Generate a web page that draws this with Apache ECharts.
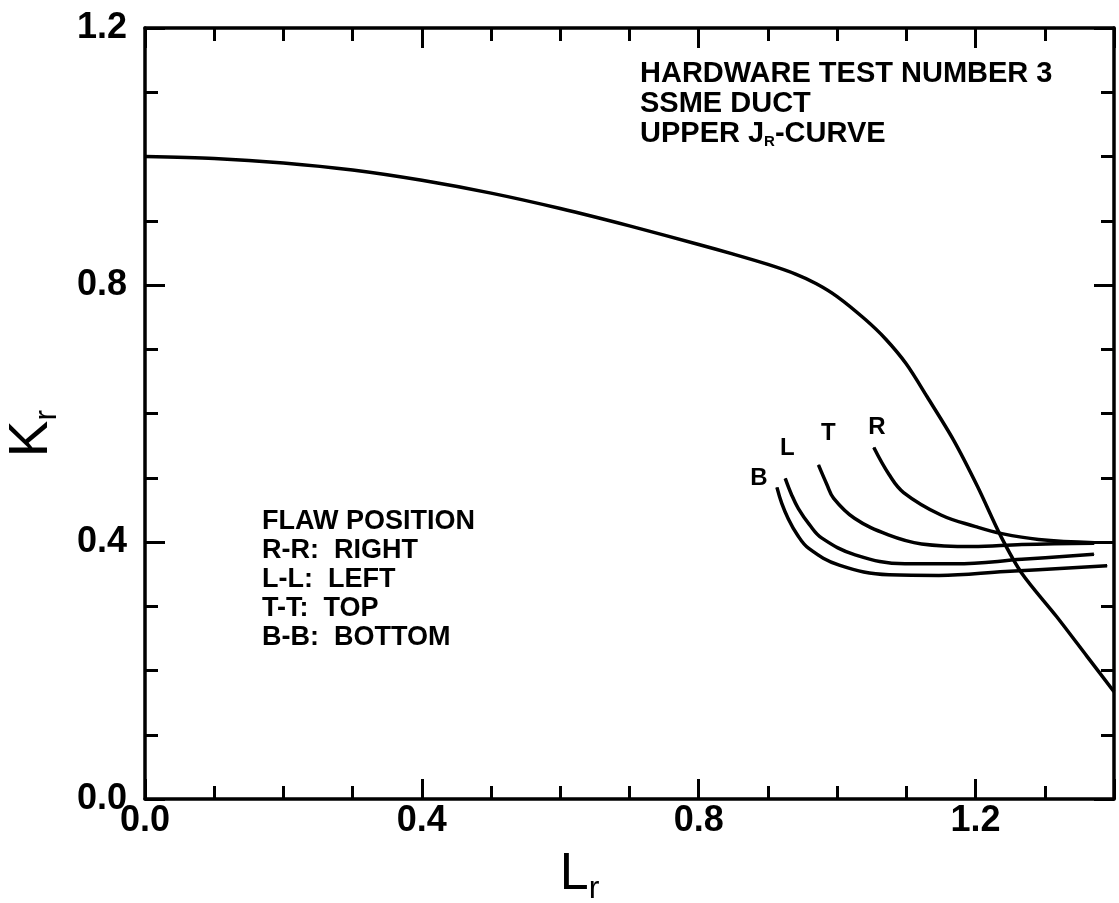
<!DOCTYPE html>
<html><head><meta charset="utf-8">
<script src="https://cdn.jsdelivr.net/npm/echarts@6/dist/echarts.min.js"></script>
<style>html,body{margin:0;padding:0;background:#fff}#c{width:1119px;height:903px}</style>
</head><body><div id="c"></div>
<script>
// ---- data ----
const mainCurve = [[0,1.0],[0.1,0.997],[0.2,0.99],[0.3,0.979],[0.4,0.963],[0.5,0.943],[0.6,0.919],[0.7,0.892],[0.8,0.863],[0.85,0.848],[0.9,0.832],[0.94,0.817],[0.97,0.802],[1.0,0.782],[1.04,0.747],[1.07,0.716],[1.1,0.677],[1.13,0.626],[1.168,0.559],[1.203,0.486],[1.237,0.408],[1.267,0.351],[1.317,0.284],[1.361,0.222],[1.4,0.167]];
const flawR = [[1.053,0.547],[1.075,0.505],[1.096,0.477],[1.15,0.442],[1.2,0.424],[1.238,0.413],[1.291,0.404],[1.372,0.399]];
const flawT = [[0.973,0.52],[0.985,0.49],[0.995,0.468],[1.025,0.437],[1.074,0.411],[1.122,0.397],[1.195,0.393],[1.267,0.396],[1.371,0.398]];
const flawL = [[0.925,0.499],[0.934,0.474],[0.944,0.452],[0.96,0.427],[0.978,0.406],[1.026,0.38],[1.098,0.366],[1.17,0.366],[1.267,0.373],[1.371,0.381]];
const flawB = [[0.913,0.485],[0.92,0.46],[0.929,0.437],[0.942,0.412],[0.959,0.39],[1.003,0.364],[1.075,0.349],[1.147,0.348],[1.243,0.354],[1.39,0.363]];
const flawNames = ['R','T','L','B'];
const xTickLabels = ['0.0','0.4','0.8','1.2'];
const yTickLabels = ['0.0','0.4','0.8','1.2'];
const infoLines = ['HARDWARE TEST NUMBER 3','SSME DUCT','UPPER J{s|R}-CURVE'];
const legendLines = ['FLAW POSITION','R-R:  RIGHT','L-L:  LEFT','T-T:  TOP','B-B:  BOTTOM'];

const FF = '"Liberation Sans", Arial, sans-serif';
const chart = echarts.init(document.getElementById('c'), null, {renderer:'canvas'});

function axisBase(pos, showLabel, labels, isX) {
  return {
    type:'value', position: pos, min:0, max: isX ? 1.4 : 1.2, interval:0.4,
    axisLine:{show:true, onZero:false, lineStyle:{color:'#000', width:3.5}},
    axisTick:{show:true, inside:true, length:20, lineStyle:{color:'#000', width:3}},
    minorTick:{show:true, splitNumber:4, length:13, lineStyle:{color:'#000', width:3}},
    splitLine:{show:false}, minorSplitLine:{show:false},
    axisLabel:{show:showLabel, color:'#000', fontSize:36, fontWeight:'bold', fontFamily:FF,
      margin: isX ? 4 : 18,
      formatter: v => { const s = (+v).toFixed(1); return labels.includes(s) ? s : ''; }}
  };
}

const xMain = Object.assign(axisBase('bottom', true, xTickLabels, true), {
  name:'{a|L}{b|r}', nameLocation:'middle', nameGap:46,
  nameTextStyle:{color:'#000', padding:[0,100,0,0], rich:{
    a:{fontSize:52, fontFamily:FF, lineHeight:60, color:'#000'},
    b:{fontSize:32, fontFamily:FF, lineHeight:28, verticalAlign:'bottom', color:'#000'}}}
});
const yMain = Object.assign(axisBase('left', true, yTickLabels, false), {
  name:'{a|K}{b|r}', nameLocation:'middle', nameGap:82,
  nameTextStyle:{color:'#000', padding:[0,40,0,0], rich:{
    a:{fontSize:55, fontFamily:FF, lineHeight:62, color:'#000'},
    b:{fontSize:32, fontFamily:FF, lineHeight:28, verticalAlign:'bottom', color:'#000'}}}
});

const labelOffsets = {R:[3,-3], T:[10,-14], L:[2,-13], B:[-18,8]};
const flawSets = [flawR, flawT, flawL, flawB];

function flawSeries(arr, name) {
  return {
    type:'line', name, xAxisIndex:0, yAxisIndex:0, showSymbol:true, symbol:'circle', symbolSize:1,
    smooth:0.4, itemStyle:{color:'#000'},
    lineStyle:{color:'#000', width:3.5},
    label:{show:false},
    data: arr.map((p,i) => i === 0 ? {value:p,
      label:{show:true, formatter:name, position:'top', offset:labelOffsets[name],
        fontSize:24, fontWeight:'bold', fontFamily:FF, color:'#000'}} : p)
  };
}

const option = {
  animation:false,
  backgroundColor:'#fff',
  grid:{left:145, right:5, top:28, bottom:104, containLabel:false, outerBoundsMode:'none'},
  xAxis:[xMain, axisBase('top', false, xTickLabels, true)],
  yAxis:[yMain, axisBase('right', false, yTickLabels, false)],
  series:[
    {type:'line', name:'main', xAxisIndex:0, yAxisIndex:0, showSymbol:false, symbol:'none', smooth:0.3,
     lineStyle:{color:'#000', width:3.5}, data: mainCurve},
    ...flawSets.map((a,i) => flawSeries(a, flawNames[i]))
  ],
  graphic:[
    {type:'text', left:640, top:59, style:{text: infoLines.join('\n'), fill:'#000',
      fontSize:29, fontWeight:'bold', fontFamily:FF, lineHeight:30,
      rich:{s:{fontSize:15, fontWeight:'bold', fontFamily:FF, lineHeight:14, verticalAlign:'bottom', fill:'#000'}}}},
    {type:'text', left:262, top:507, style:{text: legendLines.join('\n'), fill:'#000',
      fontSize:27, fontWeight:'bold', fontFamily:FF, lineHeight:29}}
  ]
};
chart.setOption(option);
</script></body></html>
